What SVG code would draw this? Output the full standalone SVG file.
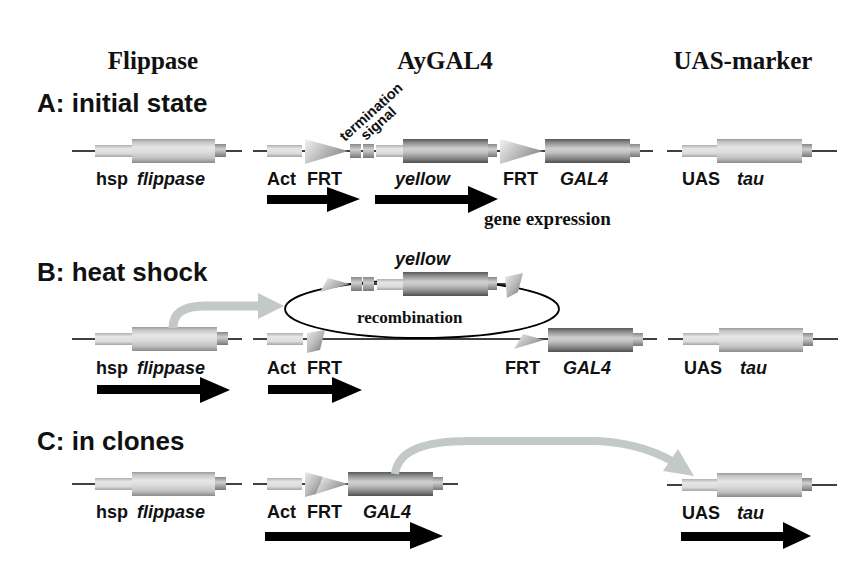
<svg xmlns="http://www.w3.org/2000/svg" width="850" height="566" viewBox="0 0 850 566">
<style>
.bg{fill:#fff}
.dna{stroke:#000;stroke-width:1.6;fill:none}
.lbl{font-family:"Liberation Sans",Arial,sans-serif;font-weight:bold;font-size:18px;fill:#111}
.it{font-style:italic}
.hdr{font-family:"Liberation Serif","Times New Roman",serif;font-weight:bold;font-size:25px;fill:#111}
.ser{font-family:"Liberation Serif","Times New Roman",serif;font-weight:bold;fill:#111}
.row{font-family:"Liberation Sans",Arial,sans-serif;font-weight:bold;font-size:26px;fill:#111}
.small{font-family:"Liberation Sans",Arial,sans-serif;font-weight:bold;font-size:14.5px;fill:#111}
.cl{fill:url(#gL)}
.cd{fill:url(#gD)}
.pr{fill:url(#gP)}
.cp{fill:url(#gC)}
.frt{fill:url(#gF)}
.cut{fill:url(#gX)}
.exp{fill:#000}
.flp{fill:none;stroke:#c3c9c9;stroke-linecap:butt}
.flph{fill:#c3c9c9}
.loop{fill:none;stroke:#000;stroke-width:1.8}
</style>
<defs>
<linearGradient id="gL" x1="0" y1="0" x2="0" y2="1">
<stop offset="0" stop-color="#9a9a9a"/><stop offset="0.12" stop-color="#c4c4c4"/><stop offset="0.35" stop-color="#e6e6e6"/><stop offset="0.55" stop-color="#dcdcdc"/><stop offset="0.8" stop-color="#c0c0c0"/><stop offset="1" stop-color="#8a8a8a"/>
</linearGradient>
<linearGradient id="gD" x1="0" y1="0" x2="0" y2="1">
<stop offset="0" stop-color="#585858"/><stop offset="0.15" stop-color="#8c8c8c"/><stop offset="0.4" stop-color="#d0d0d0"/><stop offset="0.55" stop-color="#c4c4c4"/><stop offset="0.8" stop-color="#8a8a8a"/><stop offset="1" stop-color="#505050"/>
</linearGradient>
<linearGradient id="gP" x1="0" y1="0" x2="0" y2="1">
<stop offset="0" stop-color="#b0b0b0"/><stop offset="0.3" stop-color="#e6e6e6"/><stop offset="0.7" stop-color="#dcdcdc"/><stop offset="1" stop-color="#a6a6a6"/>
</linearGradient>
<linearGradient id="gC" x1="0" y1="0" x2="0" y2="1">
<stop offset="0" stop-color="#888"/><stop offset="0.4" stop-color="#d0d0d0"/><stop offset="1" stop-color="#787878"/>
</linearGradient>
<linearGradient id="gF" x1="0" y1="0" x2="1" y2="0.5">
<stop offset="0" stop-color="#f2f2f2"/><stop offset="1" stop-color="#8c8c8c"/>
</linearGradient>
<linearGradient id="gX" x1="0" y1="0" x2="1" y2="1">
<stop offset="0" stop-color="#ececec"/><stop offset="0.5" stop-color="#b8b8b8"/><stop offset="1" stop-color="#6e6e6e"/>
</linearGradient>
</defs>
<rect class="bg" x="0" y="0" width="850" height="566"/>

<g id="headers">
<text class="hdr" x="153" y="69" text-anchor="middle">Flippase</text>
<text class="hdr" x="445" y="69" text-anchor="middle">AyGAL4</text>
<text class="hdr" x="743" y="69" text-anchor="middle">UAS-marker</text>
<text class="row" x="37" y="112">A: initial state</text>
<text class="row" x="37" y="281">B: heat shock</text>
<text class="row" x="37" y="450">C: in clones</text>
</g>

<!-- Row A -->
<g id="flippase-A">
<line class="dna" x1="72" y1="151" x2="242" y2="151"/>
<rect class="pr" x="95" y="145" width="37" height="12"/>
<rect class="cl" x="132" y="139" width="83" height="24"/>
<rect class="cp" x="215" y="144" width="11" height="13"/>
<text class="lbl" x="96" y="185">hsp</text><text class="lbl it" x="137" y="185">flippase</text>
</g>
<g id="aygal4-A">
<line class="dna" x1="253" y1="151" x2="653" y2="151"/>
<rect class="pr" x="267" y="145" width="35" height="12"/>
<polygon class="frt" points="305,139 348,151 305,164"/>
<rect class="cp" x="350" y="144" width="11" height="14"/>
<rect class="cp" x="363" y="144" width="11" height="14"/>
<rect class="pr" x="376" y="145" width="27" height="12"/>
<rect class="cd" x="403" y="139" width="85" height="24"/>
<rect class="cp" x="488" y="144" width="9" height="13"/>
<polygon class="frt" points="500,139 543,151 500,164"/>
<rect class="cd" x="545" y="139" width="85" height="24"/>
<rect class="cp" x="630" y="144" width="10" height="13"/>
<text class="small" transform="translate(345,142) rotate(-42)">termination</text>
<text class="small" transform="translate(366,141) rotate(-42)">signal</text>
<text class="lbl" x="267" y="185">Act</text>
<text class="lbl" x="307" y="185">FRT</text>
<text class="lbl it" x="395" y="185">yellow</text>
<text class="lbl" x="503" y="185">FRT</text>
<text class="lbl it" x="560" y="185">GAL4</text>
<text class="ser" x="484" y="225" font-size="19">gene expression</text>
</g>
<g id="uas-A">
<line class="dna" x1="667" y1="151" x2="837" y2="151"/>
<rect class="pr" x="682" y="145" width="35" height="12"/>
<rect class="cl" x="717" y="139" width="85" height="24"/>
<rect class="cp" x="802" y="144" width="10" height="13"/>
<text class="lbl" x="682" y="185">UAS</text><text class="lbl it" x="737" y="185">tau</text>
</g>

<!-- Row B -->
<g id="flippase-B">
<line class="dna" x1="72" y1="339" x2="242" y2="339"/>
<rect class="pr" x="95" y="333" width="37" height="12"/>
<rect class="cl" x="132" y="327" width="85" height="24"/>
<rect class="cp" x="217" y="332" width="11" height="13"/>
<text class="lbl" x="96" y="374">hsp</text><text class="lbl it" x="137" y="374">flippase</text>
</g>
<g id="aygal4-B">
<line class="dna" x1="253" y1="339" x2="657" y2="339"/>
<ellipse class="loop" cx="422" cy="309" rx="137" ry="29"/>
<rect class="pr" x="267" y="333" width="36" height="12"/>
<polygon class="cut" points="307,333 325,330 320,350 307,353"/>
<line class="dna" x1="340" y1="284" x2="507" y2="284"/>
<polygon class="frt" points="328,278 350,284 320,292"/>
<rect class="cp" x="351" y="277" width="11" height="14"/>
<rect class="cp" x="363" y="277" width="11" height="14"/>
<rect class="pr" x="377" y="279" width="26" height="11"/>
<rect class="cd" x="403" y="272" width="85" height="24"/>
<rect class="cp" x="488" y="277" width="9" height="13"/>
<polygon class="cut" points="505,277 523,273 518,292 507,298"/>
<polygon class="frt" points="523,334 544,340 514,349"/>
<rect class="cd" x="548" y="328" width="85" height="24"/>
<rect class="cp" x="633" y="333" width="10" height="13"/>
<text class="lbl it" x="395" y="265">yellow</text>
<text class="ser" x="357" y="323" font-size="17">recombination</text>
<text class="lbl" x="267" y="374">Act</text>
<text class="lbl" x="307" y="374">FRT</text>
<text class="lbl" x="505" y="374">FRT</text>
<text class="lbl it" x="563" y="374">GAL4</text>
</g>
<g id="uas-B">
<line class="dna" x1="668" y1="339" x2="838" y2="339"/>
<rect class="pr" x="683" y="333" width="36" height="12"/>
<rect class="cl" x="719" y="328" width="84" height="24"/>
<rect class="cp" x="803" y="333" width="10" height="13"/>
<text class="lbl" x="684" y="374">UAS</text><text class="lbl it" x="740" y="374">tau</text>
</g>

<!-- Row C -->
<g id="flippase-C">
<line class="dna" x1="72" y1="484" x2="242" y2="484"/>
<rect class="pr" x="95" y="478" width="37" height="12"/>
<rect class="cl" x="132" y="472" width="83" height="24"/>
<rect class="cp" x="215" y="477" width="11" height="13"/>
<text class="lbl" x="96" y="518">hsp</text><text class="lbl it" x="137" y="518">flippase</text>
</g>
<g id="aygal4-C">
<line class="dna" x1="253" y1="484" x2="458" y2="484"/>
<rect class="pr" x="267" y="478" width="35" height="12"/>
<polygon class="cut" points="305,472 323,477 316,494 305,497"/>
<polygon class="frt" points="323,477 348,484 316,494"/>
<rect class="cd" x="348" y="472" width="85" height="24"/>
<rect class="cp" x="433" y="477" width="10" height="13"/>
<text class="lbl" x="267" y="518">Act</text>
<text class="lbl" x="307" y="518">FRT</text>
<text class="lbl it" x="363" y="518">GAL4</text>
</g>
<g id="uas-C">
<line class="dna" x1="667" y1="485" x2="837" y2="485"/>
<rect class="pr" x="682" y="479" width="35" height="12"/>
<rect class="cl" x="717" y="473" width="85" height="24"/>
<rect class="cp" x="802" y="478" width="10" height="13"/>
<text class="lbl" x="682" y="519">UAS</text><text class="lbl it" x="737" y="519">tau</text>
</g>

<g id="connectors">
<path class="flp" stroke-width="9" d="M173 328 C173 312 184 306 205 306 L260 306"/>
<polygon class="flph" points="258,293 284,306 258,319"/>
<path class="flp" stroke-width="8" d="M395 474 C398 450 425 441 470 441 L590 441 C625 441 650 449 672 461"/>
<polygon class="flph" points="663,471 678,449 694,476"/>
<polygon class="exp" points="267,195 327,195 327,187 360,199 327,212 327,204 267,204"/>
<polygon class="exp" points="375,195 468,195 468,186 498,199 468,213 468,204 375,204"/>
<polygon class="exp" points="97,385 200,385 200,377 230,390 200,403 200,394 97,394"/>
<polygon class="exp" points="268,385 332,385 332,377 362,390 332,403 332,394 268,394"/>
<polygon class="exp" points="265,532 410,532 410,522 443,536 410,549 410,541 265,541"/>
<polygon class="exp" points="681,532 783,532 783,522 811,536 783,549 783,541 681,541"/>
</g>
</svg>
